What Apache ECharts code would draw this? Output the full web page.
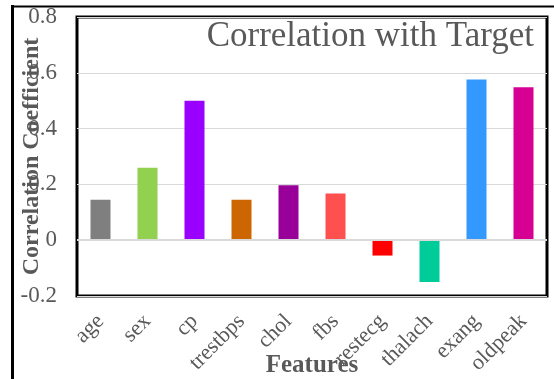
<!DOCTYPE html>
<html>
<head>
<meta charset="utf-8">
<script src="https://cdn.jsdelivr.net/npm/echarts@6/dist/echarts.min.js"></script>
<style>
  html, body { margin: 0; padding: 0; background: #fff; }
  #chart { width: 554px; height: 379px; }
</style>
</head>
<body>
<div id="chart"></div>
<script>
// Correlation of each feature with the target
const features = ['age', 'sex', 'cp', 'trestbps', 'chol', 'fbs', 'restecg', 'thalach', 'exang', 'oldpeak'];
const correlations = [0.145, 0.26, 0.5, 0.145, 0.197, 0.167, -0.055, -0.15, 0.576, 0.548];
const barColors = ['#7f7f7f', '#92d050', '#9900ff', '#cc6600', '#990099', '#ff5050', '#ff0000', '#00cc99', '#3399ff', '#d60093'];
const yTicks = [-0.2, 0, 0.2, 0.4, 0.6, 0.8];

const serif = '"Liberation Serif", "DejaVu Serif", serif';
const gray = '#595959';

const chart = echarts.init(document.getElementById('chart'), null, { renderer: 'canvas' });

chart.setOption({
  animation: false,
  backgroundColor: '#ffffff',
  title: {
    text: 'Correlation with Target',
    right: 15,
    top: 14,
    textStyle: { fontFamily: serif, fontSize: 35, fontWeight: 'normal', color: gray }
  },
  graphic: [
    { type: 'line', shape: { x1: 12.5, y1: 5, x2: 12.5, y2: 379 }, style: { stroke: '#000', lineWidth: 3 } },
    { type: 'line', shape: { x1: 11, y1: 6.5, x2: 554, y2: 6.5 }, style: { stroke: '#000', lineWidth: 2 } }
  ],
  grid: {
    left: 77, top: 17, width: 470, height: 279,
    show: true, borderColor: '#000', borderWidth: 3, backgroundColor: 'transparent',
    containLabel: false,
    outerBoundsMode: 'none'
  },
  xAxis: {
    type: 'category',
    data: features,
    axisLine: { show: false, onZero: false },
    axisTick: { show: false },
    axisLabel: {
      rotate: 45, margin: 22, interval: 0,
      fontFamily: serif, fontSize: 22, color: gray
    },
    name: 'Features',
    nameLocation: 'middle',
    nameGap: 57,
    nameMoveOverlap: false,
    nameTextStyle: { fontFamily: serif, fontSize: 25, fontWeight: 'bold', color: gray }
  },
  yAxis: {
    type: 'value',
    min: yTicks[0],
    max: yTicks[yTicks.length - 1],
    interval: 0.2,
    axisLine: { show: false },
    axisTick: { show: false },
    splitLine: { show: true, lineStyle: { color: '#d9d9d9', width: 1 } },
    axisLabel: {
      margin: 20,
      fontFamily: serif, fontSize: 23, color: gray,
      formatter: v => {
        const r = Math.round(v * 10) / 10;
        return r === 0 ? '0' : String(r);
      }
    },
    name: 'Correlation Coefficient',
    nameLocation: 'middle',
    nameGap: 33,
    nameMoveOverlap: false,
    nameTextStyle: { fontFamily: serif, fontSize: 24, fontWeight: 'bold', color: gray }
  },
  series: [{
    type: 'bar',
    barWidth: 20,
    data: correlations.map((v, i) => ({ value: v, itemStyle: { color: barColors[i] } })),
    markLine: {
      silent: true,
      symbol: 'none',
      label: { show: false },
      lineStyle: { color: '#d9d9d9', width: 2, type: 'solid' },
      data: [{ yAxis: 0 }]
    }
  }]
});
</script>
</body>
</html>
